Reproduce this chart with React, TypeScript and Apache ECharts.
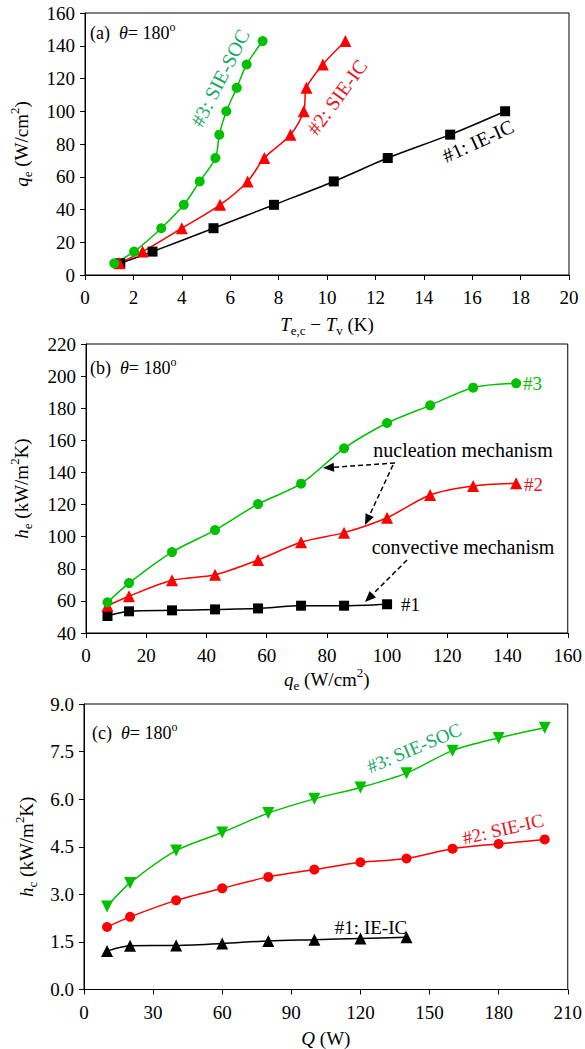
import React, { useEffect, useRef } from 'react';
import * as echarts from 'echarts';

const FONT = 'Liberation Serif';
const GREEN = '#00c000';
const GREEN_TXT = '#1aa866';
const RED = '#ff0000';
const RED_TXT = '#e8141e';
const BLACK = '#000000';

// ---------- Panel (a): q_e vs (T_e,c - T_v) ----------
const qeLevels = [7.14, 14.29, 28.57, 42.86, 57.14, 71.43, 85.71, 100, 114.29, 128.57, 142.86];
const dT1 = [1.46, 2.79, 5.31, 7.81, 10.28, 12.51, 15.09, 17.36];
const dT2 = [1.42, 2.38, 4.0, 5.58, 6.72, 7.41, 8.49, 9.04, 9.15, 9.83, 10.76];
const dT3 = [1.21, 2.03, 3.15, 4.08, 4.74, 5.39, 5.55, 5.84, 6.27, 6.68, 7.34];

// ---------- Panel (b): h_e vs q_e ----------
const he1 = [50.6, 53.5, 54.1, 54.7, 55.3, 57.0, 57.0, 57.9];
const he2 = [57.0, 62.9, 72.8, 76.3, 85.5, 96.5, 102.5, 111.8, 126.0, 131.6, 133.2];
const he3 = [59.1, 71.1, 90.4, 104.1, 120.3, 133.0, 155.0, 170.8, 181.8, 192.8, 195.5];

// ---------- Panel (c): h_c vs Q ----------
const Qlevels = [10, 20, 40, 60, 80, 100, 120, 140, 160, 180, 200];
const hc1 = [1.21, 1.38, 1.39, 1.45, 1.53, 1.57, 1.61, 1.65];
const hc2 = [1.97, 2.29, 2.81, 3.19, 3.55, 3.78, 4.01, 4.13, 4.44, 4.59, 4.73];
const hc3 = [2.62, 3.36, 4.38, 4.95, 5.56, 6.01, 6.37, 6.82, 7.53, 7.93, 8.25];

const FS = 19;
const RICH: any = {
  n: { fontFamily: FONT, fontSize: FS, color: BLACK, lineHeight: 26 },
  i: { fontFamily: FONT, fontSize: FS, fontStyle: 'italic', color: BLACK, lineHeight: 26 },
  sub: { fontFamily: FONT, fontSize: 13, color: BLACK, lineHeight: 14, verticalAlign: 'bottom' },
  sup: { fontFamily: FONT, fontSize: 13, color: BLACK, lineHeight: 14, verticalAlign: 'top' },
};

function axisBase(gridIndex: number, min: number, max: number, interval: number, name: string, nameGap: number, labelMargin: number, fmt?: (v: number) => string) {
  return {
    type: 'value',
    gridIndex,
    min,
    max,
    interval,
    name,
    nameLocation: 'middle',
    nameGap,
    nameTextStyle: { rich: RICH, fontFamily: FONT, fontSize: FS, color: BLACK },
    axisLine: { show: true, onZero: false, lineStyle: { color: BLACK, width: 1 } },
    axisTick: { show: true, length: 5, lineStyle: { color: BLACK, width: 1 } },
    axisLabel: { color: BLACK, fontFamily: FONT, fontSize: FS, margin: labelMargin, formatter: fmt },
    splitLine: { show: false },
  };
}

function lineSeries(xi: number, data: number[][], color: string, symbol: string, size: number, rotate = 0) {
  return {
    type: 'line',
    xAxisIndex: xi,
    yAxisIndex: xi,
    data,
    smooth: 0.3,
    symbol,
    symbolSize: size,
    symbolRotate: rotate,
    showAllSymbol: true,
    lineStyle: { color, width: 1.5 },
    itemStyle: { color, opacity: 1 },
    z: 3,
  };
}

function arrow(x1: number, y1: number, x2: number, y2: number) {
  const ang = Math.atan2(y2 - y1, x2 - x1);
  const L = 11, W = 4.5;
  const bx = x2 - L * Math.cos(ang), by = y2 - L * Math.sin(ang);
  const px = -Math.sin(ang) * W, py = Math.cos(ang) * W;
  return [
    { type: 'line', shape: { x1, y1, x2: bx, y2: by }, style: { stroke: BLACK, lineWidth: 1.5, lineDash: [5, 3] } },
    { type: 'polygon', shape: { points: [[x2, y2], [bx + px, by + py], [bx - px, by - py]] }, style: { fill: BLACK } },
  ];
}

function label(text: string, x: number, y: number, color: string, deg: number, size = 19, align = 'center') {
  return {
    type: 'text',
    x,
    y,
    rotation: (deg * Math.PI) / 180,
    style: { text, fill: color, fontFamily: FONT, fontSize: size, align, verticalAlign: 'middle' },
    z: 10,
  };
}

function panelTag(tag: string, x: number, y: number) {
  return {
    type: 'text',
    x,
    y,
    style: {
      text: `{n|(${tag})  }{i|θ}{n|= 180}{sup|o}`,
      rich: {
        n: { fontFamily: FONT, fontSize: 18, fill: BLACK, lineHeight: 24 },
        i: { fontFamily: FONT, fontSize: 18, fontStyle: 'italic', fill: BLACK, lineHeight: 24 },
        sup: { fontFamily: FONT, fontSize: 12, fill: BLACK, lineHeight: 12, verticalAlign: 'top' },
      },
      align: 'left',
      verticalAlign: 'middle',
    },
    z: 10,
  };
}

export default function App() {
  const ref = useRef<HTMLDivElement>(null);
  useEffect(() => {
    document.body.style.margin = '0';
    const chart = echarts.init(ref.current!, null, { renderer: 'svg' });
    const gridCommon = { show: true, borderColor: BLACK, borderWidth: 1, backgroundColor: 'transparent', containLabel: false };
    const option: any = {
      animation: false,
      backgroundColor: '#ffffff',
      textStyle: { fontFamily: FONT },
      grid: [
        { ...gridCommon, left: 84, top: 13, width: 485, height: 262 },
        { ...gridCommon, left: 84, top: 344, width: 485, height: 289 },
        { ...gridCommon, left: 84, top: 704, width: 485, height: 286 },
      ],
      xAxis: [
        axisBase(0, 0, 20, 2, '{i|T}{sub|e,c}{n| − }{i|T}{sub|v}{n| (K)}', 36, 13),
        axisBase(1, 0, 160, 20, '{i|q}{sub|e}{n| (W/cm}{sup|2}{n|)}', 33, 13),
        axisBase(2, 0, 210, 30, '{i|Q}{n| (W)}', 36, 13),
      ],
      yAxis: [
        axisBase(0, 0, 160, 20, '{i|q}{sub|e}{n| (W/cm}{sup|2}{n|)}', 51, 10),
        axisBase(1, 40, 220, 20, '{i|h}{sub|e}{n| (kW/m}{sup|2}{n|K)}', 52, 10),
        axisBase(2, 0, 9, 1.5, '{i|h}{sub|c}{n| (kW/m}{sup|2}{n|K)}', 41, 10, (v: number) => v.toFixed(1)),
      ],
      series: [
        lineSeries(0, dT1.map((t, i) => [t, qeLevels[i]]), BLACK, 'rect', 10),
        lineSeries(0, dT2.map((t, i) => [t, qeLevels[i]]), RED, 'triangle', 12),
        lineSeries(0, dT3.map((t, i) => [t, qeLevels[i]]), GREEN, 'circle', 10),
        lineSeries(1, he1.map((h, i) => [qeLevels[i], h]), BLACK, 'rect', 10),
        lineSeries(1, he2.map((h, i) => [qeLevels[i], h]), RED, 'triangle', 12),
        lineSeries(1, he3.map((h, i) => [qeLevels[i], h]), GREEN, 'circle', 10),
        lineSeries(2, hc1.map((h, i) => [Qlevels[i], h]), BLACK, 'triangle', 12),
        lineSeries(2, hc2.map((h, i) => [Qlevels[i], h]), RED, 'circle', 10),
        lineSeries(2, hc3.map((h, i) => [Qlevels[i], h]), GREEN, 'triangle', 12, 180),
      ],
      graphic: [
        panelTag('a', 90, 33),
        panelTag('b', 90, 368),
        panelTag('c', 92, 733),
        // panel (a) series labels
        label('#3: SIE-SOC', 220, 78, GREEN_TXT, 63, 20),
        label('#2: SIE-IC', 337, 97, RED_TXT, 54, 20),
        label('#1: IE-IC', 478, 141, BLACK, 24.6, 20),
        // panel (b)
        label('#3', 523, 383, GREEN, 0, 19, 'left'),
        label('#2', 524, 484, RED_TXT, 0, 19, 'left'),
        label('#1', 401, 604, BLACK, 0, 19, 'left'),
        label('nucleation mechanism', 463, 450, BLACK, 0, 20),
        label('convective mechanism', 463, 547, BLACK, 0, 20),
        ...arrow(395, 463, 323, 468),
        ...arrow(393, 465, 365, 525),
        ...arrow(407, 560, 365, 602),
        // panel (c)
        label('#3: SIE-SOC', 414, 748, GREEN_TXT, 22.9, 19),
        label('#2: SIE-IC', 503, 829, RED_TXT, 13, 19),
        label('#1: IE-IC', 371, 927, BLACK, 0, 19),
      ],
    };
    chart.setOption(option);
    return () => chart.dispose();
  }, []);
  return <div ref={ref} style={{ width: 585, height: 1049 }} />;
}
